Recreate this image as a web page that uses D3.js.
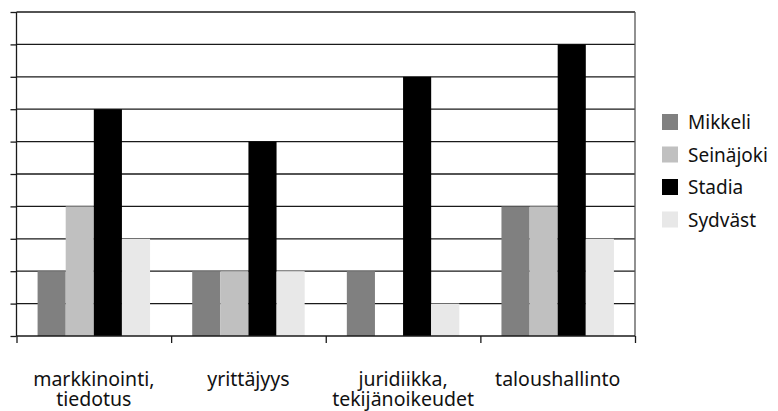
<!DOCTYPE html>
<html><head><meta charset="utf-8">
<script src="https://cdn.jsdelivr.net/npm/d3@7"></script>
<style>body{margin:0;background:#fff}svg{display:block}</style>
</head><body><svg width="778" height="411"></svg>
<script>
const categories = [["markkinointi,","tiedotus"],["yrittäjyys"],["juridiikka,","tekijänoikeudet"],["taloushallinto"]];
const seriesNames = ["Mikkeli","Seinäjoki","Stadia","Sydväst"];
const mikkeli = [2,2,2,4];
const seinajoki = [4,2,0,4];
const stadia = [7,6,8,9];
const sydvast = [3,2,1,3];
const seriesValues = [mikkeli, seinajoki, stadia, sydvast];
const colors = ["#808080","#c0c0c0","#000000","#e8e8e8"];
const yTicks = d3.range(0,11);

const svg = d3.select("svg");
const L=16.5, R=635, T=12, B=336;
const font = "'Noto Sans', sans-serif";
const x0 = d3.scaleBand().domain(d3.range(categories.length)).range([L,R]).paddingInner(0).paddingOuter(0);
const x1 = d3.scaleBand().domain(d3.range(seriesNames.length)).range([0,x0.bandwidth()]).paddingOuter(0.75).paddingInner(0);
const y = d3.scaleLinear().domain([0,10]).range([B,T]);

// gridlines
svg.append("g").selectAll("line").data(yTicks.slice(1)).join("line")
  .attr("x1",L).attr("x2",R).attr("y1",d=>y(d)).attr("y2",d=>y(d))
  .attr("stroke","#1a1a1a").attr("stroke-width",1.3);

// bars
seriesValues.forEach((vals,si)=>{
  svg.append("g").selectAll("rect").data(vals).join("rect")
    .attr("x",(d,i)=>x0(i)+x1(si)).attr("width",x1.bandwidth())
    .attr("y",d=>y(d)).attr("height",d=>B-y(d))
    .attr("fill",colors[si]);
});

// right border
svg.append("line").attr("x1",R).attr("x2",R).attr("y1",T).attr("y2",B).attr("stroke","#555").attr("stroke-width",1.3);

// y axis
const ya = svg.append("g").attr("transform",`translate(${L},0)`)
  .call(d3.axisLeft(y).tickValues(yTicks).tickSize(6).tickFormat(""));
ya.selectAll("line,path").attr("stroke","#1a1a1a").attr("stroke-width",1.3);
ya.select(".domain").attr("d",`M0,${T}V${B}`);

// x axis
const xt = d3.scaleLinear().domain([0,categories.length]).range([L,R]);
const xa = svg.append("g").attr("transform",`translate(0,${B})`)
  .call(d3.axisBottom(xt).tickValues(d3.range(0,categories.length+1)).tickSize(7).tickFormat(""));
xa.selectAll("line,path").attr("stroke","#1a1a1a").attr("stroke-width",1.3);
xa.select(".domain").attr("d",`M${L},0H${R}`);

// category labels
const lab = svg.append("g").selectAll("text").data(categories).join("text")
  .attr("x",(d,i)=>x0(i)+x0.bandwidth()/2).attr("y",385.5)
  .attr("text-anchor","middle").attr("font-family",font).attr("font-size",19.5).attr("fill","#111");
lab.selectAll("tspan").data(d=>d).join("tspan")
  .attr("x",function(){return this.parentNode.getAttribute("x");})
  .attr("dy",(d,i)=>i===0?0:20).text(d=>d);

// legend
const lg = svg.append("g").selectAll("g").data(seriesNames).join("g")
  .attr("transform",(d,i)=>`translate(662,${114+i*32.5})`);
lg.append("rect").attr("width",16).attr("height",16).attr("fill",(d,i)=>colors[i]);
lg.append("text").attr("x",26).attr("y",15).attr("font-family",font).attr("font-size",19).attr("fill","#111").text(d=>d);
</script></body></html>
